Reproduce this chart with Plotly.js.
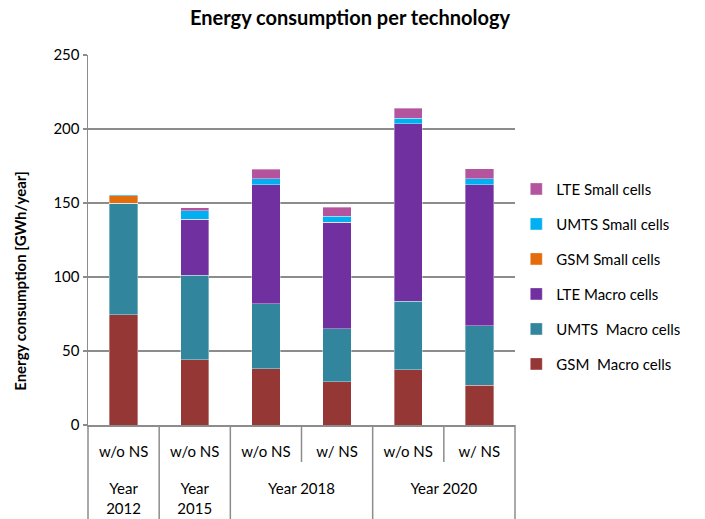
<!DOCTYPE html>
<html>
<head>
<meta charset="utf-8">
<script src="https://cdn.plot.ly/plotly-3.0.1.min.js"></script>
<style>html,body{margin:0;padding:0;background:#fff;}#chart{width:705px;height:519px;}</style>
</head>
<body>
<div id="chart"></div>
<script>
const outerLabels = ["Year<br>2012", "Year<br>2015", "Year 2018", "Year 2018", "Year 2020", "Year 2020"];
const innerLabels = ["w/o NS", "w/o NS", "w/o NS", "w/ NS", "w/o NS", "w/ NS"];

const seriesNames = ["GSM  Macro cells", "UMTS  Macro cells", "LTE Macro cells", "GSM Small cells", "UMTS Small cells", "LTE Small cells"];
const gsmMacro  = [74.4, 44.0, 37.9, 29.1, 37.2, 26.9];
const umtsMacro = [75.4, 57.1, 43.9, 35.8, 46.3, 40.0];
const lteMacro  = [0,    38.0, 80.7, 72.0, 119.9, 95.6];
const gsmSmall  = [5.0,  0,    0,    0,    0,    0];
const umtsSmall = [0.8,  5.6,  4.0,  4.0,  3.9,  4.0];
const lteSmall  = [0,    2.1,  6.4,  6.3,  6.7,  6.8];
const seriesColors = ["#953735", "#31859C", "#7030A0", "#E46C0A", "#00B0F0", "#B4549F"];
const seriesValues = [gsmMacro, umtsMacro, lteMacro, gsmSmall, umtsSmall, lteSmall];

const FONT = "Lato, 'Open Sans', sans-serif";
const GRID = "#8c8c8c";

const n = innerLabels.length;
const positions = innerLabels.map((_, i) => i);

// outer groups: label and centre position, derived from the labels
const groupLabels = [], groupCenters = [];
{
  let start = 0;
  for (let k = 1; k <= n; k++) {
    if (k === n || outerLabels[k] !== outerLabels[k - 1]) {
      groupLabels.push(outerLabels[start]);
      groupCenters.push((start + k - 1) / 2);
      start = k;
    }
  }
}

const traces = seriesValues.map((vals, i) => ({
  type: "bar",
  name: seriesNames[i],
  x: positions,
  y: vals,
  marker: {color: seriesColors[i], line: {color: "rgba(255,255,255,0.6)", width: 0.6}},
  legendgroup: "g" + i,
  legendrank: 100 - i,
  hoverinfo: "y+name"
}));
// invisible trace so that the outer-level category axis (xaxis2) is drawn
traces.push({
  type: "scatter", mode: "none", xaxis: "x2", yaxis: "y",
  x: groupCenters, y: groupCenters.map(() => 0),
  showlegend: false, hoverinfo: "skip"
});

// category dividers below the axis: full height between outer groups, short between inner ones
const shapes = [];
for (let k = 0; k <= n; k++) {
  const full = (k === 0 || k === n || outerLabels[k] !== outerLabels[k - 1]);
  shapes.push({
    type: "line", xref: "paper", yref: "paper",
    x0: k / n, x1: k / n, y0: 0, y1: full ? -0.26 : -0.10,
    line: {color: GRID, width: 1.5}
  });
}

const layout = {
  width: 705, height: 519,
  margin: {l: 88, r: 190, t: 55, b: 94},
  paper_bgcolor: "#fff", plot_bgcolor: "#fff",
  barmode: "stack",
  bargap: 0.6,
  font: {family: FONT, size: 15, color: "#000"},
  title: {text: "<b>Energy consumption per technology</b>", x: 0.4965, xanchor: "center", y: 0.965, yanchor: "middle",
          font: {family: FONT, size: 20, color: "#000"}},
  xaxis: {
    type: "linear", range: [-0.5, n - 0.5],
    tickmode: "array", tickvals: positions, ticktext: innerLabels,
    showline: true, linecolor: GRID, linewidth: 1.5,
    showgrid: false, zeroline: false, ticks: "",
    ticklabelstandoff: 12,
    tickfont: {family: FONT, size: 15, color: "#000"}
  },
  xaxis2: {
    type: "linear", range: [-0.5, n - 0.5], overlaying: "x", anchor: "y", side: "bottom",
    tickmode: "array", tickvals: groupCenters, ticktext: groupLabels,
    showline: false, showgrid: false, zeroline: false, ticks: "",
    ticklabelstandoff: 53,
    tickfont: {family: FONT, size: 15, color: "#000"}
  },
  yaxis: {
    range: [0, 250], dtick: 50,
    showline: true, linecolor: GRID, linewidth: 1.5,
    showgrid: true, gridcolor: GRID, gridwidth: 1.5,
    ticks: "outside", ticklen: 4, tickcolor: GRID, tickwidth: 1.5,
    zeroline: false,
    tickfont: {family: FONT, size: 15, color: "#000"}
  },
  annotations: [{
    text: "<b>Energy consumption [GWh/year]</b>", textangle: -90,
    xref: "paper", yref: "paper", x: -0.159, y: 0.39, xanchor: "center", yanchor: "middle",
    showarrow: false, font: {family: FONT, size: 15, color: "#000"}
  }],
  shapes: shapes,
  legend: {
    x: 1.003, xanchor: "left", y: 0.401, yanchor: "middle",
    traceorder: "grouped", tracegroupgap: 12.5,
    font: {family: FONT, size: 15, color: "#000"},
    bgcolor: "rgba(0,0,0,0)"
  },
  showlegend: true
};

Plotly.newPlot("chart", traces, layout, {displayModeBar: false, staticPlot: true});
</script>
</body>
</html>
